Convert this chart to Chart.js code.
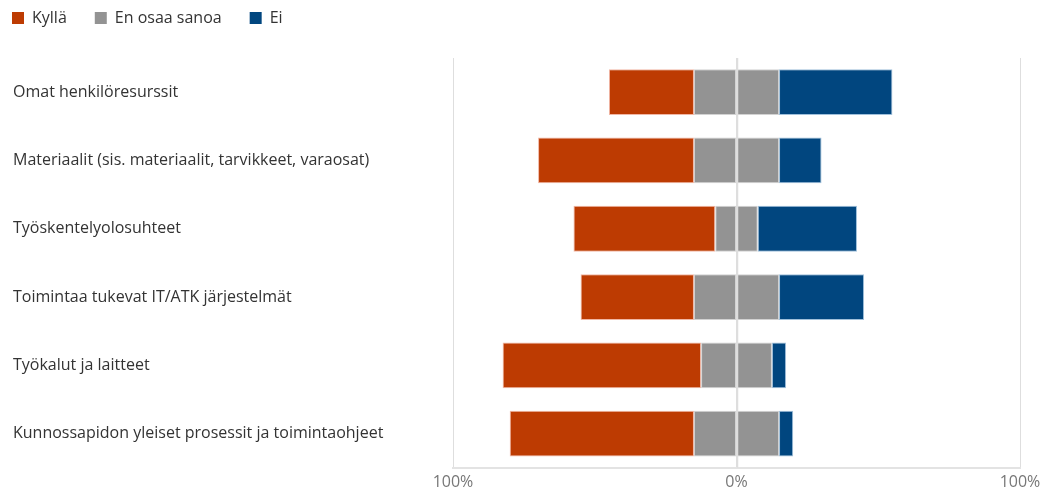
<!DOCTYPE html>
<html>
<head>
<meta charset="utf-8">
<script src="https://cdn.jsdelivr.net/npm/chart.js@4/dist/chart.umd.min.js"></script>
<style>
  html, body { margin: 0; padding: 0; background: #fff; }
</style>
</head>
<body>
<canvas id="c" width="1057" height="490"></canvas>
<script>
// Survey answers, percent of respondents per resource
const categories = [
  'Omat henkilöresurssit',
  'Materiaalit (sis. materiaalit, tarvikkeet, varaosat)',
  'Työskentelyolosuhteet',
  'Toimintaa tukevat IT/ATK järjestelmät',
  'Työkalut ja laitteet',
  'Kunnossapidon yleiset prosessit ja toimintaohjeet'
];
const kylla   = [30, 55, 50, 40, 70, 65];
const enOsaa  = [30, 30, 15, 30, 25, 30];
const ei      = [40, 15, 35, 30, 5, 5];
const xTicks  = [-100, 0, 100];

const RED = '#BD3B02', GREY = '#939393', BLUE = '#01467F';
const FONT = '"Open Sans", "Noto Sans", sans-serif';
const FS = 16;

// Neutral answers are split evenly around zero; "Kyllä" extends left, "Ei" right
const greyLeft  = enOsaa.map(v => -v / 2);
const greyRight = enOsaa.map(v => v / 2);
const kyllaNeg  = kylla.map(v => -v);

const common = { borderWidth: 1, borderSkipped: false, barPercentage: 0.67, categoryPercentage: 1 };

// Redraw the zero line on top of the bars
const zeroLine = {
  id: 'zeroLine',
  afterDatasetsDraw(chart) {
    const { ctx, chartArea, scales } = chart;
    const x = Math.round(scales.x.getPixelForValue(0)) + 0.5;
    ctx.save();
    ctx.strokeStyle = '#dedede';
    ctx.lineWidth = 1.5;
    ctx.beginPath();
    ctx.moveTo(x, chartArea.top);
    ctx.lineTo(x, chartArea.bottom);
    ctx.stroke();
    ctx.restore();
  }
};

// Legend sits in the top-left corner, independent of item spacing
const legendPlace = {
  id: 'legendPlace',
  afterLayout(chart) {
    const lg = chart.legend;
    const pad = lg.options.labels.padding;
    lg.left = 12 - pad;
    lg.top = 18 - pad - FS / 2;
  }
};

new Chart(document.getElementById('c'), {
  type: 'bar',
  data: {
    labels: categories,
    datasets: [
      { label: 'En osaa sanoa', data: greyLeft, backgroundColor: GREY, borderColor: 'rgba(205,205,205,0.9)', ...common, hiddenInLegend: true },
      { label: 'Kyllä', data: kyllaNeg, backgroundColor: RED, borderColor: 'rgba(240,175,155,0.9)', ...common },
      { label: 'En osaa sanoa', data: greyRight, backgroundColor: GREY, borderColor: 'rgba(205,205,205,0.9)', ...common },
      { label: 'Ei', data: ei, backgroundColor: BLUE, borderColor: 'rgba(150,185,215,0.9)', ...common }
    ]
  },
  plugins: [zeroLine, legendPlace],
  options: {
    indexAxis: 'y',
    responsive: false,
    animation: false,
    layout: { padding: { left: 13, right: 37, top: 4, bottom: -7 } },
    plugins: {
      tooltip: { enabled: false },
      legend: {
        position: 'top',
        align: 'start',
        labels: {
          font: { family: FONT, size: FS },
          color: '#333',
          boxWidth: 12,
          boxHeight: 12,
          padding: 28,
          filter: (item, data) => !data.datasets[item.datasetIndex].hiddenInLegend,
          generateLabels: chart => {
            const items = Chart.defaults.plugins.legend.labels.generateLabels(chart);
            items.forEach(it => { it.lineWidth = 0; it.strokeStyle = 'transparent'; });
            return items;
          }
        }
      }
    },
    scales: {
      x: {
        stacked: true,
        min: -100,
        max: 100,
        afterBuildTicks: s => { s.ticks = xTicks.map(v => ({ value: v })); },
        ticks: {
          callback: v => Math.abs(v) + '%',
          font: { family: FONT, size: FS },
          color: '#777',
          padding: 5
        },
        grid: { color: '#dedede', lineWidth: 1, drawTicks: false },
        border: { display: true, color: '#e3e3e3', width: 2 }
      },
      y: {
        stacked: true,
        ticks: {
          crossAlign: 'far',
          font: { family: FONT, size: FS },
          color: '#333',
          padding: 0
        },
        grid: { display: false, drawTicks: false },
        border: { display: false },
        afterFit: s => { s.width = 440; }
      }
    }
  }
});
</script>
</body>
</html>
